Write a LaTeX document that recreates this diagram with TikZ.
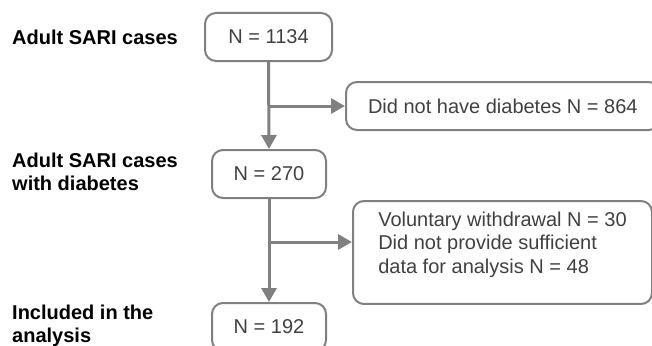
\documentclass[tikz,border=0pt]{standalone}
\usepackage{fontspec}
\setmainfont{Liberation Sans}
\usetikzlibrary{arrows.meta}

\begin{document}
\begin{tikzpicture}[x=1pt,y=-1pt,
    box/.style={draw=lineGray, line width=2pt, rounded corners=11pt, text=textGray,
      font=\fontsize{20}{23.5}\selectfont, minimum height=48pt, inner xsep=0pt},
    stage/.style={anchor=north west, inner sep=0pt, align=left,
      font=\bfseries\fontsize{20}{23}\selectfont},
    flow/.style={draw=lineGray, line width=3pt, -{Triangle[width=15pt,length=14pt]}}]
  \colorlet{lineGray}{black!50}
  \colorlet{textGray}{black!75}
  \useasboundingbox (0,0) rectangle (652,345);
  \clip (0,0) rectangle (652,345);
  % stage labels on the left
  \node[stage] (lblTotal) at (12,30) {Adult SARI cases};
  \node[stage] (lblDiab) at (12,153) {Adult SARI cases\\with diabetes};
  \node[stage] (lblIncl) at (12,305) {Included in the\\analysis};
  % main column
  \node[box, minimum width=127pt] (total) at (268.5,37) {N = 1134};
  \node[box, minimum width=114pt] (diab) at (269,174) {N = 270};
  \node[box, minimum width=114pt] (incl) at (269,327) {N = 192};
  % exclusions
  \node[box, anchor=west, inner xsep=22pt] (nodiab) at (345,106) {Did not have diabetes N = 864};
  \node[box, anchor=north west, align=left, minimum width=299pt, inner ysep=11pt] (excl) at (352,200)
    {Voluntary withdrawal N = 30\\Did not provide sufficient\\data for analysis N = 48\rule[-19.5pt]{0pt}{19.5pt}};
  % connectors
  \coordinate (split1) at (total.south |- nodiab.west);
  \coordinate (split2) at (268.5,242);
  \draw[flow] (total.south) -- (diab.north);
  \draw[flow] (split1) -- (nodiab.west);
  \draw[flow] (diab.south) -- (incl.north);
  \draw[flow] (split2) -- (split2 -| excl.west);
\end{tikzpicture}
\end{document}
